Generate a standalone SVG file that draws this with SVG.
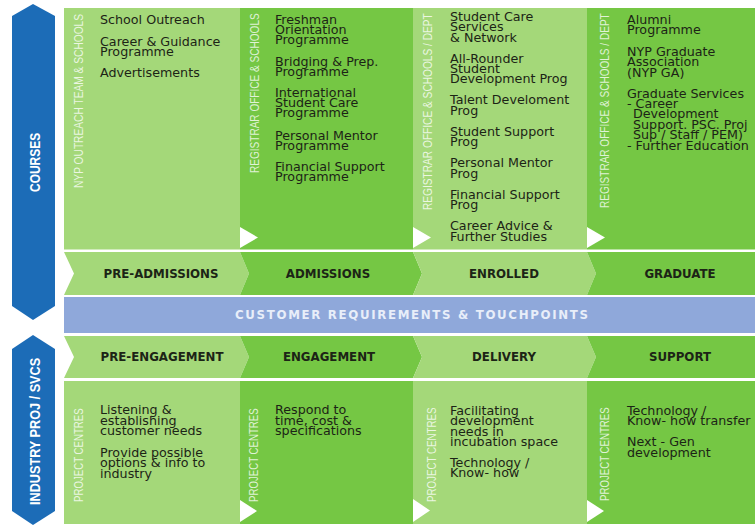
<svg xmlns="http://www.w3.org/2000/svg" width="755" height="526" viewBox="0 0 755 526">
<style>
.lt{fill:#a4d879}
.dk{fill:#75c744}
.blue{fill:#1c6cb7}
.band{fill:#8fa8da}
.tri{fill:#ffffff}
.body{font-family:"DejaVu Sans","Liberation Sans",sans-serif;font-size:12.7px;fill:#1c2416}
.stage{font-family:"DejaVu Sans","Liberation Sans",sans-serif;font-size:11.8px;font-weight:bold;fill:#1c2416;text-anchor:middle}
.side{font-family:"Liberation Sans","DejaVu Sans",sans-serif;font-size:13px;fill:#ffffff;fill-opacity:0.78}
.axis{font-family:"Liberation Sans","DejaVu Sans",sans-serif;font-size:14px;font-weight:bold;fill:#ffffff}
.bandtxt{font-family:"DejaVu Sans","Liberation Sans",sans-serif;font-size:11.8px;font-weight:bold;fill:#e8eef9}
</style>
<rect x="0" y="0" width="755" height="526" fill="#ffffff"/>

<g id="axis-courses">
<polygon class="blue" points="33,4 55,16 55,306 33,320 12,306 12,16"/>
<text class="axis" transform="translate(39.5,192) rotate(-90) scale(0.855,1)" x="0" y="0">COURSES</text>
</g>
<g id="axis-industry">
<polygon class="blue" points="33,335 55,349 55,511 33,525 12,511 12,349"/>
<text class="axis" transform="translate(39.5,505) rotate(-90) scale(0.906,1)" x="0" y="0">INDUSTRY PROJ / SVCS</text>
</g>

<g id="col1-courses">
<rect class="lt" x="64" y="8" width="176" height="241.5"/>
<text class="side" transform="translate(83,188) rotate(-90) scale(0.785,1)">NYP OUTREACH TEAM &amp; SCHOOLS</text>
<text class="body"><tspan x="100" y="23.5">School Outreach</tspan><tspan x="100" y="45.5">Career &amp; Guidance</tspan><tspan x="100" y="55.5">Programme</tspan><tspan x="100" y="76.5">Advertisements</tspan></text>
</g>
<g id="col2-courses">
<rect class="dk" x="240" y="8" width="173" height="241.5"/>
<polygon class="tri" points="240,227 258,237.5 240,248"/>
<text class="side" transform="translate(258.5,173) rotate(-90) scale(0.774,1)">REGISTRAR OFFICE &amp; SCHOOLS</text>
<text class="body"><tspan x="275" y="24">Freshman</tspan><tspan x="275" y="34">Orientation</tspan><tspan x="275" y="44">Programme</tspan><tspan x="275" y="66">Bridging &amp; Prep.</tspan><tspan x="275" y="76">Programme</tspan><tspan x="275" y="97">International</tspan><tspan x="275" y="107">Student Care</tspan><tspan x="275" y="117">Programme</tspan><tspan x="275" y="140">Personal Mentor</tspan><tspan x="275" y="150">Programme</tspan><tspan x="275" y="171">Financial Support</tspan><tspan x="275" y="181">Programme</tspan></text>
</g>
<g id="col3-courses">
<rect class="lt" x="413" y="8" width="174" height="241.5"/>
<polygon class="tri" points="413,227 431,237.5 413,248"/>
<text class="side" transform="translate(432,210) rotate(-90) scale(0.781,1)">REGISTRAR OFFICE &amp; SCHOOLS / DEPT</text>
<text class="body"><tspan x="450" y="21">Student Care</tspan><tspan x="450" y="31.4">Services</tspan><tspan x="450" y="41.8">&amp; Network</tspan><tspan x="450" y="62.5">All-Rounder</tspan><tspan x="450" y="73">Student</tspan><tspan x="450" y="83.4">Development Prog</tspan><tspan x="450" y="104">Talent Develoment</tspan><tspan x="450" y="114.5">Prog</tspan><tspan x="450" y="135.5">Student Support</tspan><tspan x="450" y="146">Prog</tspan><tspan x="450" y="167">Personal Mentor</tspan><tspan x="450" y="177.5">Prog</tspan><tspan x="450" y="198.5">Financial Support</tspan><tspan x="450" y="209">Prog</tspan><tspan x="450" y="230">Career Advice &amp;</tspan><tspan x="450" y="240.5">Further Studies</tspan></text>
</g>
<g id="col4-courses">
<rect class="dk" x="587" y="8" width="168" height="241.5"/>
<polygon class="tri" points="587,227 605,237.5 587,248"/>
<text class="side" transform="translate(608.5,208) rotate(-90) scale(0.773,1)">REGISTRAR OFFICE &amp; SCHOOLS / DEPT</text>
<text class="body"><tspan x="627" y="23.5">Alumni</tspan><tspan x="627" y="34">Programme</tspan><tspan x="627" y="55.5">NYP Graduate</tspan><tspan x="627" y="66">Association</tspan><tspan x="627" y="76.5">(NYP GA)</tspan><tspan x="627" y="97.5">Graduate Services</tspan><tspan x="627" y="107.5">- Career</tspan><tspan x="633" y="118">Development</tspan><tspan x="633" y="128.5">Support. PSC. Proj</tspan><tspan x="633" y="139">Sup / Staff / PEM)</tspan><tspan x="627" y="149.5">- Further Education</tspan></text>
</g>

<g id="stages-courses">
<g id="pre-admissions"><polygon class="lt" points="64,252 240,252 249,273.5 240,295 64,295 74,273.5"/><text class="stage" x="161" y="278">PRE-ADMISSIONS</text></g>
<g id="admissions"><polygon class="dk" points="240,252 413,252 422,273.5 413,295 240,295 249,273.5"/><text class="stage" x="328" y="278">ADMISSIONS</text></g>
<g id="enrolled"><polygon class="lt" points="413,252 587,252 596,273.5 587,295 413,295 422,273.5"/><text class="stage" x="504" y="278">ENROLLED</text></g>
<g id="graduate"><polygon class="dk" points="587,252 755,252 755,295 587,295 596,273.5"/><text class="stage" x="680" y="278">GRADUATE</text></g>
</g>

<g id="customer-band">
<rect class="band" x="64" y="297" width="691" height="36"/>
<text class="bandtxt" x="235" y="319" textLength="353">CUSTOMER REQUIREMENTS &amp; TOUCHPOINTS</text>
</g>

<g id="stages-industry">
<g id="pre-engagement"><polygon class="lt" points="64,336 240,336 249,357 240,378 64,378 74,357"/><text class="stage" x="162" y="361">PRE-ENGAGEMENT</text></g>
<g id="engagement"><polygon class="dk" points="240,336 413,336 422,357 413,378 240,378 249,357"/><text class="stage" x="329" y="361">ENGAGEMENT</text></g>
<g id="delivery"><polygon class="lt" points="413,336 587,336 596,357 587,378 413,378 422,357"/><text class="stage" x="504" y="361">DELIVERY</text></g>
<g id="support"><polygon class="dk" points="587,336 755,336 755,378 587,378 596,357"/><text class="stage" x="680" y="361">SUPPORT</text></g>
</g>

<g id="col1-industry">
<rect class="lt" x="64" y="381" width="176" height="143"/>
<text class="side" transform="translate(83,502) rotate(-90) scale(0.744,1)">PROJECT CENTRES</text>
<text class="body"><tspan x="100" y="414">Listening &amp;</tspan><tspan x="100" y="424.5">establishing</tspan><tspan x="100" y="435">customer needs</tspan><tspan x="100" y="456.5">Provide possible</tspan><tspan x="100" y="467">options &amp; info to</tspan><tspan x="100" y="477.5">industry</tspan></text>
</g>
<g id="col2-industry">
<rect class="dk" x="240" y="381" width="173" height="143"/>
<polygon class="tri" points="240,500 257,511 240,522"/>
<text class="side" transform="translate(258,502) rotate(-90) scale(0.744,1)">PROJECT CENTRES</text>
<text class="body"><tspan x="275" y="414">Respond to</tspan><tspan x="275" y="424.5">time, cost &amp;</tspan><tspan x="275" y="435">specifications</tspan></text>
</g>
<g id="col3-industry">
<rect class="lt" x="413" y="381" width="174" height="143"/>
<polygon class="tri" points="413,499 430,510.5 413,522"/>
<text class="side" transform="translate(436,502) rotate(-90) scale(0.75,1)">PROJECT CENTRES</text>
<text class="body"><tspan x="450" y="414.5">Facilitating</tspan><tspan x="450" y="425">development</tspan><tspan x="450" y="435.5">needs in</tspan><tspan x="450" y="446">incubation space</tspan><tspan x="450" y="466.5">Technology /</tspan><tspan x="450" y="477">Know- how</tspan></text>
</g>
<g id="col4-industry">
<rect class="dk" x="587" y="381" width="168" height="143"/>
<polygon class="tri" points="587,500 604,511 587,522"/>
<text class="side" transform="translate(609,501) rotate(-90) scale(0.744,1)">PROJECT CENTRES</text>
<text class="body"><tspan x="627" y="414.5">Technology /</tspan><tspan x="627" y="425">Know- how transfer</tspan><tspan x="627" y="446">Next - Gen</tspan><tspan x="627" y="456.5">development</tspan></text>
</g>

<g id="connectors"></g>
</svg>
